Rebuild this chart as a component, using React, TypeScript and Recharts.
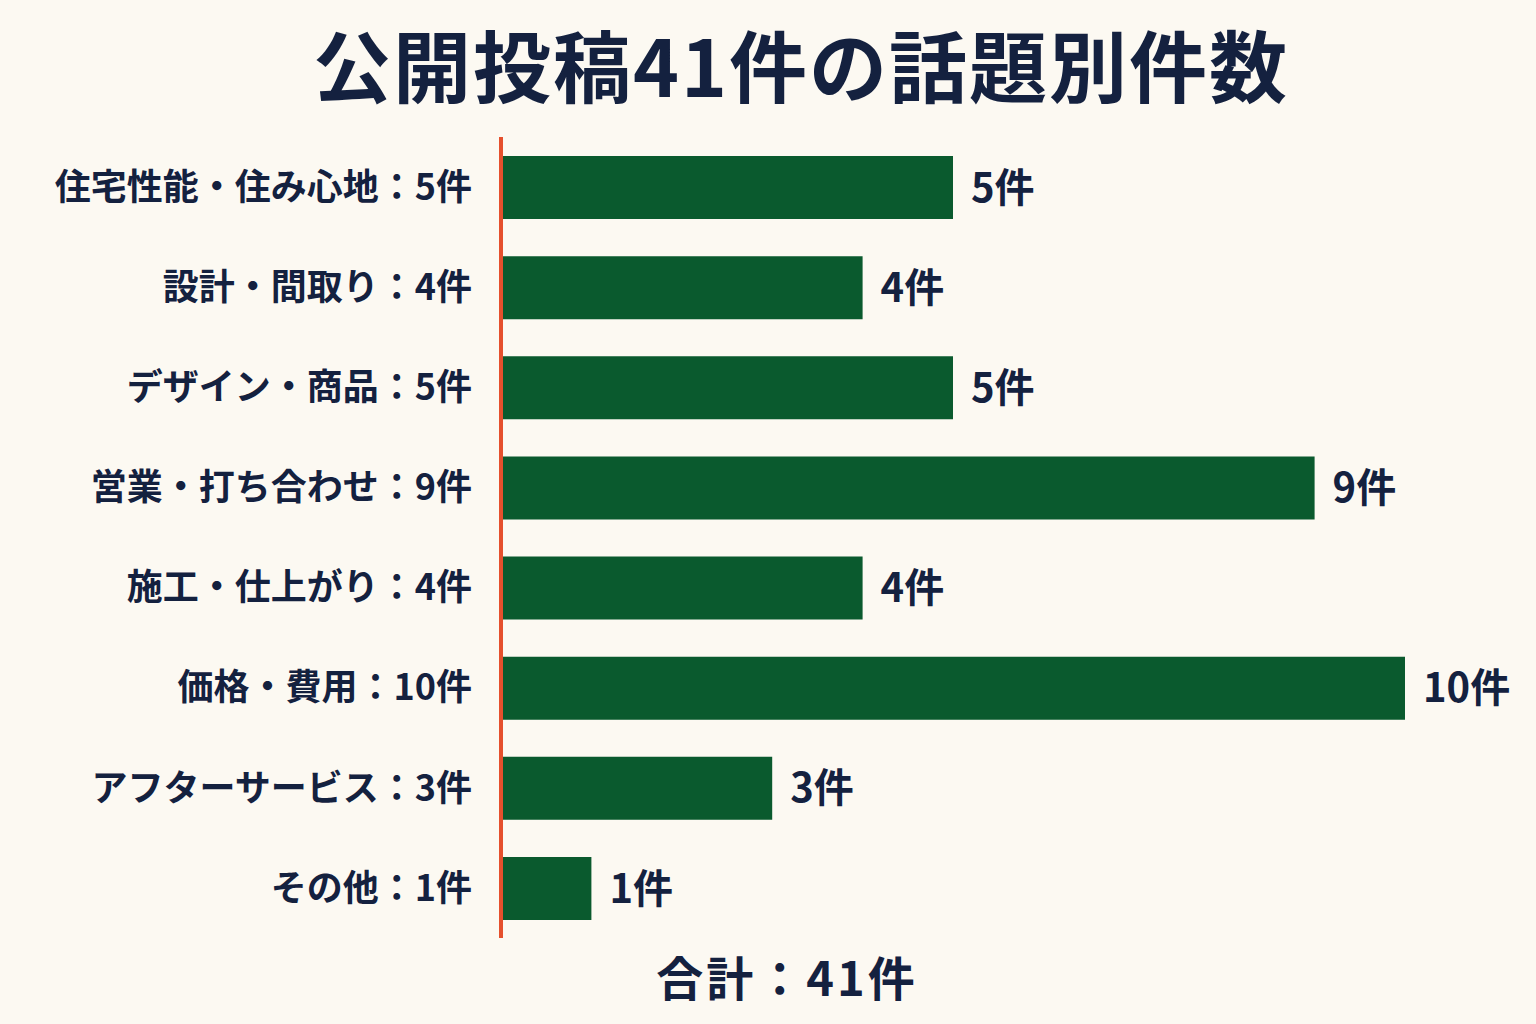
import React from 'react';
import { BarChart, Bar, XAxis, YAxis, LabelList } from 'recharts';

// topic names and counts
const topics = [
  '住宅性能・住み心地',
  '設計・間取り',
  'デザイン・商品',
  '営業・打ち合わせ',
  '施工・仕上がり',
  '価格・費用',
  'アフターサービス',
  'その他',
];
const counts = [5, 4, 5, 9, 4, 10, 3, 1];
const xTicks = [0, 2, 4, 6, 8, 10];

const FONT = '"Noto Sans CJK JP", "Noto Sans", sans-serif';
const NAVY = '#14213f';
const GREEN = '#0a5a2e';
const RED = '#e5502d';

const data = topics.map((t, i) => ({
  label: `${t}：${counts[i]}件`,
  count: counts[i],
}));
const total = counts.reduce((a, b) => a + b, 0);

export default function App() {
  return (
    <div
      style={{
        position: 'absolute',
        top: 0,
        left: 0,
        width: 1536,
        height: 1024,
        background: '#fcf9f2',
        fontFamily: FONT,
        overflow: 'hidden',
      }}
    >
      <div
        style={{
          position: 'absolute',
          top: 13,
          left: 33,
          width: 1536,
          textAlign: 'center',
          fontSize: 78,
          fontWeight: 700,
          letterSpacing: 2,
          color: NAVY,
          lineHeight: '100px',
        }}
      >
        公開投稿{total}件の話題別件数
      </div>

      <div style={{ position: 'absolute', top: 0, left: 0 }}>
        <BarChart
          width={1536}
          height={1024}
          data={data}
          layout="vertical"
          margin={{ top: 137, right: 131, bottom: 86, left: 0 }}
        >
          <XAxis type="number" domain={[0, 10]} ticks={xTicks} hide />
          <YAxis
            type="category"
            dataKey="label"
            width={501}
            tickLine={false}
            tickSize={0}
            tickMargin={29}
            axisLine={{ stroke: RED, strokeWidth: 4 }}
            tick={{ fill: NAVY, fontSize: 36, fontWeight: 700, fontFamily: FONT }}
          />
          <Bar dataKey="count" fill={GREEN} barSize={63} isAnimationActive={false}>
            <LabelList
              dataKey="count"
              position="right"
              offset={18}
              formatter={(v: number) => `${v}件`}
              style={{ fill: NAVY, fontSize: 40, fontWeight: 700, fontFamily: FONT }}
            />
          </Bar>
        </BarChart>
      </div>

      <div
        style={{
          position: 'absolute',
          top: 943,
          left: 19,
          width: 1536,
          textAlign: 'center',
          fontSize: 47,
          fontWeight: 700,
          letterSpacing: 3,
          color: NAVY,
          lineHeight: '66px',
        }}
      >
        合計：{total}件
      </div>
    </div>
  );
}
